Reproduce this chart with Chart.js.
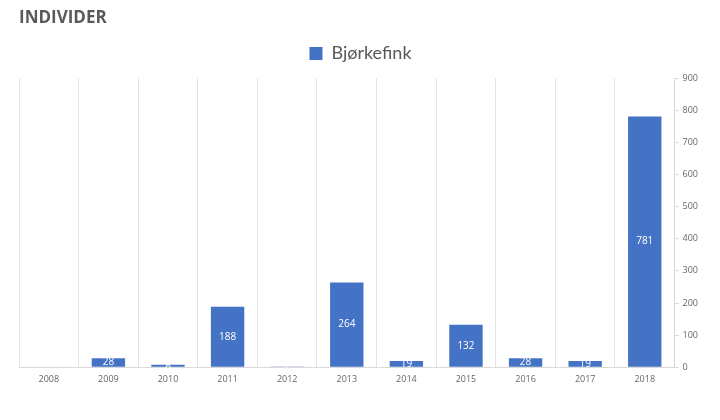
<!DOCTYPE html>
<html>
<head>
<meta charset="utf-8">
<script src="https://cdn.jsdelivr.net/npm/chart.js@4.4.1/dist/chart.umd.min.js"></script>
<style>
html,body{margin:0;padding:0;background:#fff;}
#wrap{width:720px;height:420px;position:relative;}
</style>
</head>
<body>
<div id="wrap"><canvas id="c" width="720" height="420"></canvas></div>
<script>
const categories = ['2008','2009','2010','2011','2012','2013','2014','2015','2016','2017','2018'];
const values = [0, 28, 8, 188, 2, 264, 19, 132, 28, 19, 781];
const seriesName = 'Bjørkefink';
const titleText = 'INDIVIDER';
const yMax = 900;
const yStep = 100;

const barLabels = {
  id: 'barLabels',
  afterDatasetsDraw(chart) {
    const ctx = chart.ctx;
    const meta = chart.getDatasetMeta(0);
    ctx.save();
    ctx.fillStyle = '#ffffff';
    ctx.font = '10px "Open Sans", sans-serif';
    ctx.textAlign = 'center';
    ctx.textBaseline = 'middle';
    meta.data.forEach((bar, i) => {
      const v = values[i];
      if (!v) return;
      const y = (bar.y + bar.base) / 2;
      ctx.fillText(String(v), bar.x, y);
    });
    ctx.restore();
  }
};

const legendSpace = {
  id: 'legendSpace',
  afterInit(chart) {
    const lg = chart.legend;
    if (!lg) return;
    const f = lg.fit;
    lg.fit = function () { f.call(this); this.height += 6; };
  }
};

new Chart(document.getElementById('c'), {
  type: 'bar',
  data: {
    labels: categories,
    datasets: [{
      label: seriesName,
      data: values,
      backgroundColor: '#4472C4',
      borderWidth: 0,
      barPercentage: 0.56,
      categoryPercentage: 1.0
    }]
  },
  options: {
    responsive: false,
    animation: false,
    layout: { padding: { left: 19, right: 18, top: 3, bottom: 28 } },
    plugins: {
      title: {
        display: true,
        text: titleText,
        align: 'start',
        color: '#595959',
        font: { family: '"Open Sans", sans-serif', size: 17, weight: 'bold' },
        padding: { top: 5, bottom: 3 }
      },
      legend: {
        display: true,
        position: 'top',
        labels: {
          color: '#595959',
          font: { family: 'Lato, sans-serif', size: 18 },
          boxWidth: 13,
          boxHeight: 13,
          padding: 13
        }
      },
      tooltip: { enabled: false }
    },
    scales: {
      x: {
        grid: { display: true, color: '#e3e3e3', drawTicks: false, offset: true },
        border: { display: true, color: '#d9d9d9' },
        ticks: {
          color: '#666666',
          font: { family: '"Open Sans", sans-serif', size: 9 },
          padding: 7
        }
      },
      y: {
        position: 'right',
        min: 0,
        max: yMax,
        ticks: {
          stepSize: yStep,
          color: '#666666',
          font: { family: '"Open Sans", sans-serif', size: 9 },
          padding: 4
        },
        grid: { display: true, drawOnChartArea: false, drawTicks: true, tickLength: 4, color: '#d9d9d9' },
        border: { display: true, color: '#d9d9d9' }
      }
    }
  },
  plugins: [barLabels, legendSpace]
});
</script>
</body>
</html>
